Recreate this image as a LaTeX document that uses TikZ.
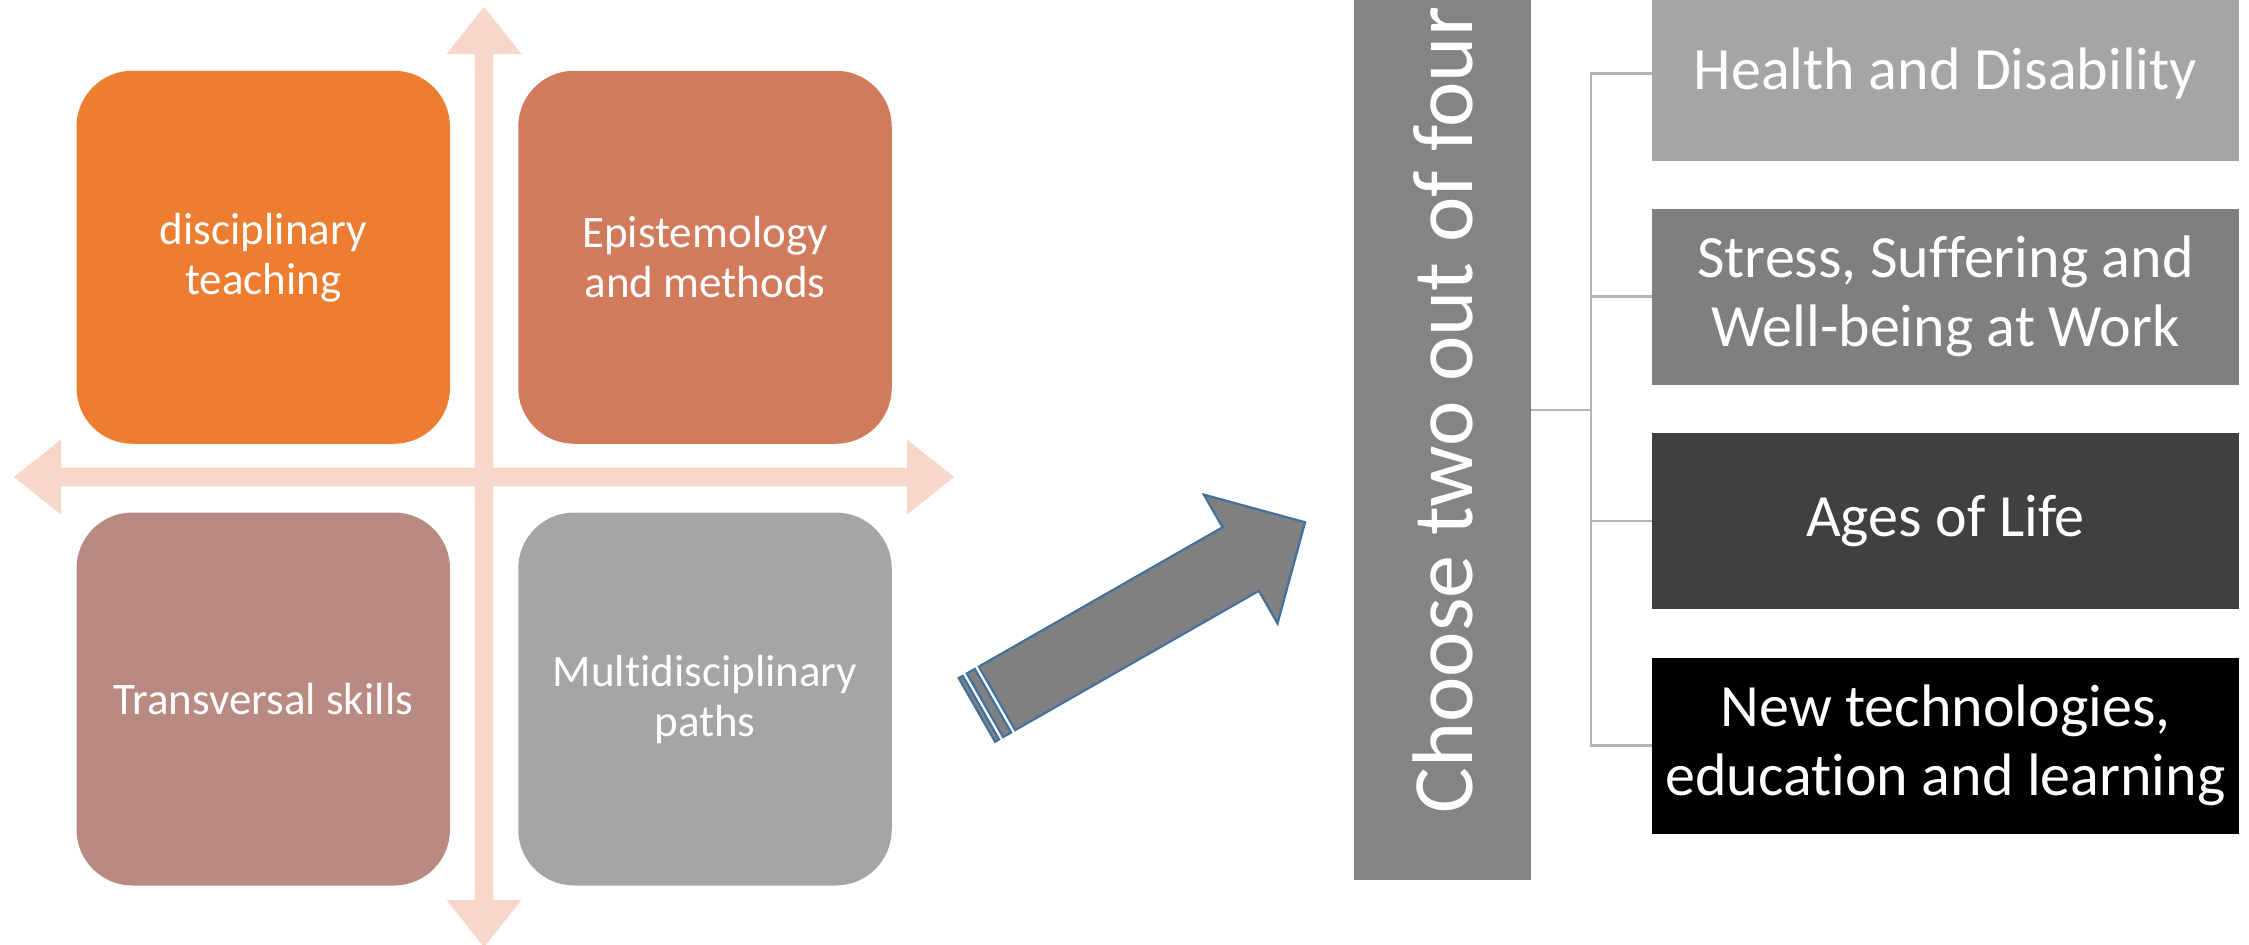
\documentclass[tikz,border=0pt]{standalone}
\usepackage{fontspec}
\setmainfont{Carlito}[Ligatures=NoCommon]
\definecolor{qarrow}{HTML}{F8D7CB}
\definecolor{boxA}{HTML}{ED7D31}
\definecolor{boxB}{HTML}{D17A5C}
\definecolor{boxC}{HTML}{B98A82}
\definecolor{boxD}{HTML}{A5A5A5}
\definecolor{bigarrow}{HTML}{808080}
\definecolor{arrowline}{HTML}{41719C}
\definecolor{choosec}{HTML}{848484}
\definecolor{tA}{HTML}{A5A5A5}
\definecolor{tB}{HTML}{7F7F7F}
\definecolor{tC}{HTML}{404040}
\definecolor{tD}{HTML}{000000}
\definecolor{connc}{HTML}{B4B4B4}
\begin{document}
\begin{tikzpicture}[x=1pt,y=-1pt,
  quad/.style={rounded corners=56pt, minimum width=373.5pt, minimum height=373pt, inner sep=0pt, text=white, align=center, font=\fontsize{45}{50}\selectfont},
  topic/.style={minimum width=587pt, minimum height=175.5pt, inner sep=0pt, text=white, align=center, font=\fontsize{60}{69}\selectfont},
  conn/.style={draw=connc, line width=2.7pt},
  arrowpart/.style={draw=arrowline, fill=bigarrow, line width=2.2pt}]
\path[use as bounding box, clip] (0,0) rectangle (2249,945);

% quad arrow
\begin{scope}[shift={(484,477)}]
\fill[qarrow] (0,-470) -- (37.5,-423) -- (9.3,-423) -- (9.3,-9.3) -- (423,-9.3) -- (423,-37.5) -- (470,0) -- (423,37.5) -- (423,9.3) -- (9.3,9.3) -- (9.3,423) -- (37.5,423) -- (0,470) -- (-37.5,423) -- (-9.3,423) -- (-9.3,9.3) -- (-423,9.3) -- (-423,37.5) -- (-470,0) -- (-423,-37.5) -- (-423,-9.3) -- (-9.3,-9.3) -- (-9.3,-423) -- (-37.5,-423) -- cycle;
\end{scope}

\node[quad, fill=boxA] (q1) at (263.25,257.25) {disciplinary\\teaching};
\node[quad, fill=boxB] (q2) at (705,257.25) {Epistemology\\and methods};
\node[quad, fill=boxC] (q3) at (263.25,699) {Transversal skills};
\node[quad, fill=boxD] (q4) at (705,699) {Multidisciplinary\\paths};

% striped arrow
\begin{scope}[shift={(997,698.35)}, rotate=29.75]
\path[arrowpart] (0,-36.6) -- (280.7,-36.6) -- (280.7,-74.2) -- (354.9,0) -- (280.7,74.2) -- (280.7,36.6) -- (0,36.6) -- cycle;
\path[arrowpart] (-13.9,-36.6) rectangle (-4.64,36.6);
\path[arrowpart] (-23.2,-36.6) rectangle (-18.55,36.6);
\end{scope}

\node[fill=choosec, rotate=90, minimum width=940pt, minimum height=176.5pt, inner sep=0pt, text=white, font=\fontsize{86}{100}\selectfont] (cho) at (1442.5,410) {Choose two out of four};

\node[topic, fill=tA] (t1) at (1945.5,73.5) {Health and Disability};
\node[topic, fill=tB] (t2) at (1945.5,296.8) {Stress, Suffering and\\Well-being at Work};
\node[topic, fill=tC] (t3) at (1945.5,521) {Ages of Life};
\node[topic, fill=tD] (t4) at (1945.5,745.8) {New technologies,\\education and learning};

\coordinate (bus) at (1591,410);
\draw[conn] (cho.south) -- (bus);
\draw[conn] (t1.west) -- (t1.west -| bus) -- (t4.west -| bus) -- (t4.west);
\draw[conn] (t2.west) -- (t2.west -| bus);
\draw[conn] (t3.west) -- (t3.west -| bus);
\end{tikzpicture}
\end{document}
